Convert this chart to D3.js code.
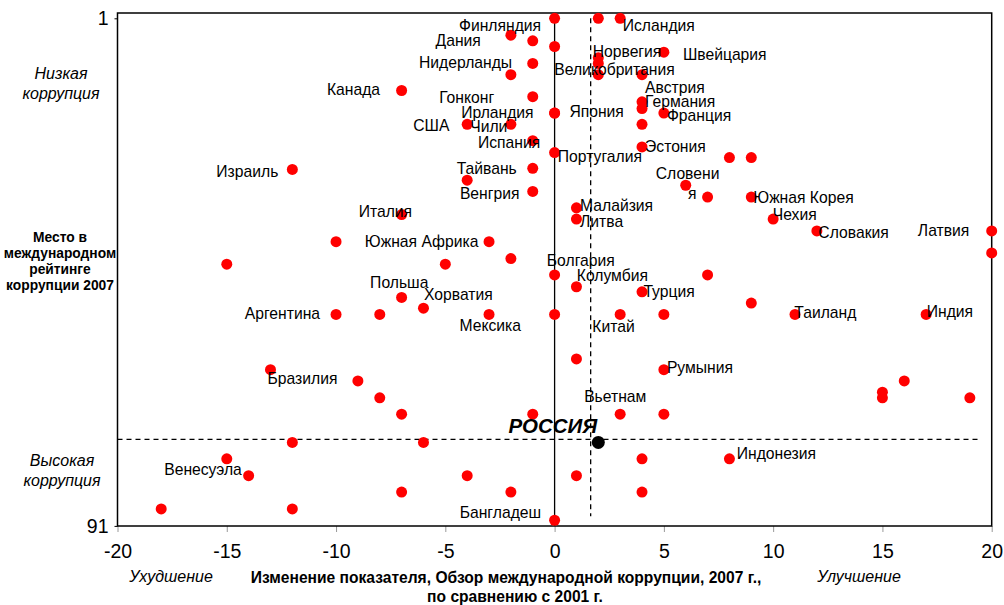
<!DOCTYPE html>
<html>
<head>
<meta charset="utf-8">
<script src="https://cdn.jsdelivr.net/npm/d3@7"></script>
<style>
body { margin: 0; background: #fff; }
svg text { font-family: "Liberation Sans", Arial, sans-serif; fill: #000; }
</style>
</head>
<body>
<svg id="chart" width="1004" height="605"></svg>
<script>
// points: country label ("" = no label), change of CPI score 2001->2007, place in 2007 ranking
const country = [
  "Финляндия", "", "Исландия", "Дания", "", "", "Швейцария", "Норвегия", "Нидерланды", "Великобритания",
  "", "", "", "Канада", "Гонконг", "Австрия", "Германия", "Ирландия", "Япония", "Франция",
  "США", "Чили", "", "Испания", "Эстония", "Португалия", "", "", "Тайвань", "Израиль",
  "", "Словения", "Венгрия", "", "Южная Корея", "Малайзия", "Италия", "Литва", "Чехия", "Словакия",
  "Латвия", "", "Южная Африка", "", "", "", "", "Болгария", "", "Колумбия",
  "Турция", "Польша", "", "Хорватия", "Аргентина", "", "Мексика", "", "Китай", "",
  "Таиланд", "Индия", "", "Бразилия", "Румыния", "", "", "", "", "",
  "", "", "", "Вьетнам", "", "", "", "РОССИЯ", "", "",
  "Индонезия", "Венесуэла", "", "", "", "", "", "", "", "Бангладеш"
];
const change = [
  0, 2, 3, -2, -1, 0, 5, 2, -1, 2,
  2, 4, -2, -7, -1, 4, 4, 0, 0, 5,
  -4, -2, 4, -1, 4, 0, 8, 9, -1, -12,
  -4, 6, -1, 7, 9, 1, -7, 1, 10, 12,
  20, -10, -3, 20, -2, -15, -5, 0, 7, 1,
  4, -7, 9, -6, -10, -8, -3, 0, 3, 5,
  11, 17, 1, -13, 5, -9, 16, 15, -8, 15,
  19, -7, -1, 3, 5, -12, -6, 2, -15, 4,
  8, -14, -4, 1, -7, -2, 4, -18, -12, 0
];
const rank = [
  1, 1, 1, 4, 5, 6, 7, 8, 9, 9,
  11, 11, 11, 13.8, 14.9, 15.8, 17, 17.8, 17.8, 17.8,
  19.8, 19.8, 19.8, 22.7, 23.8, 24.8, 25.7, 25.7, 27.6, 27.8,
  29.7, 30.6, 31.7, 32.7, 32.7, 34.6, 35.8, 36.6, 36.6, 38.7,
  38.7, 40.6, 40.6, 42.6, 43.6, 44.6, 44.6, 46.5, 46.5, 48.6,
  49.5, 50.5, 51.5, 52.4, 53.5, 53.5, 53.5, 53.5, 53.5, 53.5,
  53.5, 53.5, 61.4, 63.3, 63.3, 65.3, 65.3, 67.3, 68.3, 68.3,
  68.3, 71.2, 71.2, 71.2, 71.2, 76.2, 76.2, 76.2, 79.1, 79.1,
  79.1, 82.1, 82.1, 82.1, 85, 85, 85, 88, 88, 90
];
const xTicks = [-20, -15, -10, -5, 0, 5, 10, 15, 20];
const yTicks = [1, 91];
const highlight = "РОССИЯ";
const russiaRankLine = 75.65;
const russiaChangeLine = 1.65;

// label placement relative to its dot (pixels)
const labelPos = {
  "Финляндия": [-13.5, 7.7, "end"], "Исландия": [2.6, 7.7, "start"], "Дания": [-30, 5, "end"],
  "Нидерланды": [-20.6, -1, "end"], "Норвегия": [-5.6, -6, "start"], "Швейцария": [19, 2, "start"],
  "Великобритания": [-44, 5.6, "start"], "Канада": [-21.5, -1.4, "end"], "Австрия": [3, -14.4, "start"],
  "Германия": [3, -6.8, "start"], "Франция": [3, 2, "start"], "Гонконг": [-38.6, 0.8, "end"],
  "Ирландия": [-21, -0.3, "end"], "Япония": [14.8, -1.3, "start"], "США": [-17.8, 0.7, "end"],
  "Чили": [-3.5, 1.7, "end"], "Испания": [7.4, 2, "end"], "Португалия": [3.2, 4.3, "start"],
  "Эстония": [3, 0, "start"], "Тайвань": [-16, 0.4, "end"], "Венгрия": [-13.3, 1.7, "end"],
  "Израиль": [-14, 1.7, "end"], "Словения": [0, 0, "start"], "Малайзия": [3.6, -2, "start"],
  "Литва": [3.6, 2.7, "start"], "Италия": [10.5, -3, "end"], "Южная Корея": [2, 0, "start"],
  "Чехия": [-0.4, -5, "start"], "Словакия": [1.5, 2, "start"], "Латвия": [-22.4, -0.8, "end"],
  "Южная Африка": [-10.6, 0, "end"], "Болгария": [-7.8, -14.8, "start"], "Колумбия": [0.3, -11, "start"],
  "Польша": [-31.5, -14.7, "start"], "Хорватия": [0.6, -14, "start"], "Турция": [1.4, -0.7, "start"],
  "Аргентина": [-16, -1, "end"], "Мексика": [-29.6, 10.7, "start"], "Китай": [-27.8, 11.7, "start"],
  "Таиланд": [-0.7, -2, "start"], "Индия": [0.6, -2.6, "start"], "Румыния": [3, -2, "start"],
  "Бразилия": [-3, 9, "start"], "Вьетнам": [-36, -18, "start"], "РОССИЯ": [-1, -17, "end"],
  "Индонезия": [7.3, -5, "start"], "Венесуэла": [-6.8, -6.6, "end"], "Бангладеш": [-13.5, -8.2, "end"]
};

const points = country.map((c, i) => ({ name: c, x: change[i], y: rank[i] }));

const svg = d3.select('#chart');
const plotLeft = 117.5, plotRight = 991.7, plotTop = 13, plotBottom = 526;

const x = d3.scaleLinear().domain([-20, 20]).range([plotLeft, plotRight]);
const y = d3.scaleLinear().domain([1, 91]).range([18.3, 525.9]);

// x axis
const xAxis = svg.append('g')
  .attr('transform', 'translate(0,' + plotBottom + ')')
  .call(d3.axisBottom(x).tickValues(xTicks).tickSize(6).tickFormat(d => String(d)));
xAxis.select('.domain').remove();
xAxis.selectAll('line').attr('stroke', '#999');
xAxis.selectAll('text')
  .attr('y', 25).attr('dy', '0.35em')
  .style('font-size', '19.5px');

// y axis
const yAxis = svg.append('g')
  .attr('transform', 'translate(' + plotLeft + ',0)')
  .call(d3.axisLeft(y).tickValues(yTicks).tickSize(3).tickPadding(6).tickFormat(d => String(d)));
yAxis.select('.domain').remove();
yAxis.selectAll('line').attr('stroke', '#000');
yAxis.selectAll('text').style('font-size', '19.5px');

// frame
svg.append('rect')
  .attr('x', plotLeft).attr('y', plotTop)
  .attr('width', plotRight - plotLeft).attr('height', plotBottom - plotTop)
  .attr('fill', 'none').attr('stroke', '#000').attr('stroke-width', 1.5);

// zero line and russia reference lines
svg.append('line')
  .attr('x1', x(0)).attr('x2', x(0)).attr('y1', plotTop).attr('y2', plotBottom)
  .attr('stroke', '#000').attr('stroke-width', 1.3);
svg.append('line')
  .attr('x1', x(russiaChangeLine)).attr('x2', x(russiaChangeLine))
  .attr('y1', y(1)).attr('y2', y(89.3))
  .attr('stroke', '#000').attr('stroke-width', 1.3).style('stroke-dasharray', '5,4');
svg.append('line')
  .attr('x1', plotLeft).attr('x2', x(19.5))
  .attr('y1', y(russiaRankLine)).attr('y2', y(russiaRankLine))
  .attr('stroke', '#000').attr('stroke-width', 1.3).style('stroke-dasharray', '5,4');

// dots
svg.selectAll('circle.dot')
  .data(points)
  .enter()
  .append('circle')
  .attr('class', 'dot')
  .attr('cx', d => x(d.x))
  .attr('cy', d => y(d.y))
  .attr('r', d => d.name == highlight ? 6.5 : 5.5)
  .attr('fill', d => d.name == highlight ? '#000' : '#ff0000');

// labels
const labelled = points.filter(d => d.name != "");
svg.selectAll('text.lbl')
  .data(labelled)
  .enter()
  .append('text')
  .attr('class', 'lbl')
  .attr('x', d => x(d.x) + labelPos[d.name][0])
  .attr('y', d => y(d.y) + labelPos[d.name][1])
  .attr('dy', '0.35em')
  .attr('text-anchor', d => labelPos[d.name][2])
  .style('font-size', d => d.name == highlight ? '20.5px' : '15.7px')
  .style('font-weight', d => d.name == highlight ? 'bold' : 'normal')
  .style('font-style', d => d.name == highlight ? 'italic' : 'normal')
  .each(function(d) {
    if (d.name == "Словения") {
      // wrapped like the original data label
      const t = d3.select(this).attr('dy', null).attr('x', null).attr('y', null).attr('text-anchor', 'start');
      t.append('tspan').attr('x', x(d.x) - 30).attr('y', y(d.y) - 11.5).attr('dy', '0.35em').text('Словени');
      t.append('tspan').attr('x', x(d.x) + 2.3).attr('y', y(d.y) + 8.5).attr('dy', '0.35em').text('я');
    } else {
      d3.select(this).text(d.name);
    }
  });

// side captions
function lines(arr, cx, cy, lh, size, weight, style) {
  const t = svg.append('text')
    .attr('text-anchor', 'middle')
    .style('font-size', size + 'px')
    .style('font-weight', weight)
    .style('font-style', style);
  arr.forEach((s, i) => {
    t.append('tspan').attr('x', cx).attr('y', cy + i * lh).attr('dy', '0.35em').text(s);
  });
}
lines(["Низкая", "коррупция"], 61, 73, 20, 16, 'normal', 'italic');
lines(["Высокая", "коррупция"], 62, 460, 20, 16, 'normal', 'italic');
lines(["Место в", "международном", "рейтинге", "коррупции 2007"], 60, 237, 16, 13.8, 'bold', 'normal');
lines(["Изменение показателя, Обзор международной коррупции, 2007 г.,"], 506, 578, 0, 15.6, 'bold', 'normal');
lines(["по сравнению с 2001 г."], 515, 597, 0, 15.6, 'bold', 'normal');
lines(["Ухудшение"], 171, 576, 0, 16, 'normal', 'italic');
lines(["Улучшение"], 859, 576, 0, 16, 'normal', 'italic');
</script>
</body>
</html>
